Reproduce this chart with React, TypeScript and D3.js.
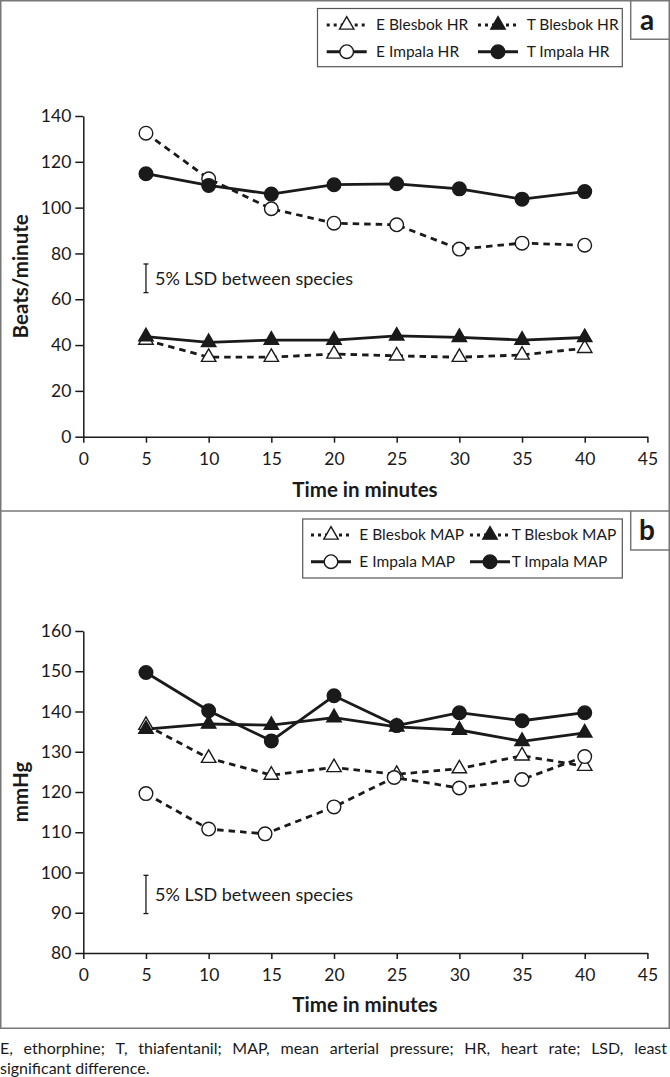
import React, { useEffect, useRef } from "react";
import * as d3 from "d3";

// ---------- data ----------
const times = [5, 10, 15, 20, 25, 30, 35, 40];

const eBlesbokHR = [42.2, 34.7, 34.7, 36.1, 35.3, 34.7, 35.7, 38.6];
const tBlesbokHR = [43.7, 41.2, 42.2, 42.2, 44.0, 43.4, 42.2, 43.3];
const eImpalaHR = [132.5, 112.6, 99.5, 93.2, 92.5, 81.9, 84.5, 83.6];
const tImpalaHR = [114.8, 109.7, 105.9, 110.0, 110.4, 108.2, 103.7, 107.0];

const eImpalaMAPTimes = [5, 10, 14.5, 20, 24.8, 30, 35, 40];
const eBlesbokMAP = [136.6, 128.4, 124.2, 126.1, 124.4, 125.8, 129.0, 126.4];
const tBlesbokMAP = [135.6, 136.9, 136.6, 138.5, 136.2, 135.4, 132.6, 134.7];
const eImpalaMAP = [119.6, 110.8, 109.6, 116.3, 123.6, 121.0, 123.1, 128.8];
const tImpalaMAP = [149.7, 140.2, 132.7, 143.9, 136.5, 139.7, 137.7, 139.7];

const xTicks = [0, 5, 10, 15, 20, 25, 30, 35, 40, 45];
const hrTicks = [0, 20, 40, 60, 80, 100, 120, 140];
const mapTicks = [80, 90, 100, 110, 120, 130, 140, 150, 160];

const hrLegend = ["E Blesbok HR", "T Blesbok HR", "E Impala HR", "T Impala HR"];
const mapLegend = ["E Blesbok MAP", "T Blesbok MAP", "E Impala MAP", "T Impala MAP"];

const lsdHR = [62.9, 75.4];
const lsdMAP = [89.8, 99.3];
const lsdLabel = "5% LSD between species";

const captionLine1 =
  "E, ethorphine; T, thiafentanil; MAP, mean arterial pressure; HR, heart rate; LSD, least";
const captionLine2 = "significant difference.";

const FONT = "Lato, 'Open Sans', sans-serif";
const INK = "#1a1a1a";

type Marker = "triOpen" | "triFilled" | "circOpen" | "circFilled";

export default function App() {
  const ref = useRef<SVGSVGElement>(null);

  useEffect(() => {
    const svg = d3.select(ref.current!);
    svg.selectAll("*").remove();

    const x = d3.scaleLinear().domain([0, 45]).range([83.3, 647.4]);

    // frame
    svg
      .append("rect")
      .attr("x", 0.75)
      .attr("y", 0.75)
      .attr("width", 668.5)
      .attr("height", 1027.5)
      .attr("fill", "none")
      .attr("stroke", "#777")
      .attr("stroke-width", 1.5);
    svg
      .append("line")
      .attr("x1", 0)
      .attr("x2", 670)
      .attr("y1", 511)
      .attr("y2", 511)
      .attr("stroke", "#777")
      .attr("stroke-width", 1.5);

    const drawMarker = (g: any, type: Marker, cx: number, cy: number) => {
      if (type === "circOpen" || type === "circFilled") {
        g.append("circle")
          .attr("cx", cx)
          .attr("cy", cy)
          .attr("r", 6.8)
          .attr("fill", type === "circOpen" ? "#fff" : INK)
          .attr("stroke", INK)
          .attr("stroke-width", 1.4);
      } else {
        const sym = d3.symbol().type(d3.symbolTriangle).size(90);
        g.append("path")
          .attr("d", sym() as string)
          .attr("transform", `translate(${cx},${cy})`)
          .attr("fill", type === "triOpen" ? "#fff" : INK)
          .attr("stroke", INK)
          .attr("stroke-width", 1.4);
      }
    };

    const panel = (opts: {
      yDomain: [number, number];
      yRange: [number, number];
      ticks: number[];
      yTitle: string;
      titleY: number;
      series: { xs: number[]; ys: number[]; dashed: boolean; marker: Marker }[];
      legend: string[];
      legendBox: { x0: number; x1: number; y0: number; y1: number; col1: number; col2: number; txt1: number; txt2: number; row1: number; row2: number };
      letter: string;
      letterBox: { top: number; bottom: number };
      lsd: number[];
    }) => {
      const y = d3.scaleLinear().domain(opts.yDomain).range(opts.yRange);
      const g = svg.append("g");

      // axes
      const yAxis = d3
        .axisLeft(y)
        .tickValues(opts.ticks)
        .tickSize(8)
        .tickSizeOuter(0)
        .tickPadding(4)
        .tickFormat(d3.format("d") as any);
      const ya = g.append("g").attr("transform", `translate(${x(0)},0)`).call(yAxis);
      const xAxis = d3
        .axisBottom(x)
        .tickValues(xTicks)
        .tickSize(6)
        .tickSizeOuter(0)
        .tickPadding(10)
        .tickFormat(d3.format("d") as any);
      const xa = g
        .append("g")
        .attr("transform", `translate(0,${y(opts.yDomain[0])})`)
        .call(xAxis);
      [ya, xa].forEach((a) => {
        a.select(".domain").attr("stroke", INK).attr("stroke-width", 1.5);
        a.selectAll(".tick line").attr("stroke", INK).attr("stroke-width", 1.5);
        a.selectAll(".tick text")
          .attr("font-family", FONT)
          .attr("font-size", 17.5)
          .attr("fill", INK);
      });

      // titles
      g.append("text")
        .attr("x", 365)
        .attr("y", opts.titleY)
        .attr("text-anchor", "middle")
        .attr("font-family", FONT)
        .attr("font-weight", "bold")
        .attr("font-size", 20.5)
        .attr("fill", INK)
        .text("Time in minutes");
      const yc = (opts.yRange[0] + opts.yRange[1]) / 2;
      g.append("text")
        .attr("transform", `translate(28,${yc}) rotate(-90)`)
        .attr("text-anchor", "middle")
        .attr("font-family", FONT)
        .attr("font-weight", "bold")
        .attr("font-size", 20.5)
        .attr("fill", INK)
        .text(opts.yTitle);

      // LSD bar
      const lx = x(5);
      const ly0 = y(opts.lsd[0]);
      const ly1 = y(opts.lsd[1]);
      g.append("line").attr("x1", lx).attr("x2", lx).attr("y1", ly0).attr("y2", ly1).attr("stroke", INK).attr("stroke-width", 1.3);
      [ly0, ly1].forEach((yy) =>
        g.append("line").attr("x1", lx - 2.5).attr("x2", lx + 2.5).attr("y1", yy).attr("y2", yy).attr("stroke", INK).attr("stroke-width", 1.3)
      );
      g.append("text")
        .attr("x", lx + 9)
        .attr("y", (ly0 + ly1) / 2)
        .attr("dy", "0.35em")
        .attr("font-family", FONT)
        .attr("font-size", 18)
        .attr("fill", INK)
        .text(lsdLabel);

      // series
      opts.series.forEach((s) => {
        const pts = s.xs.map((t, i) => [x(t), y(s.ys[i])] as [number, number]);
        g.append("path")
          .attr("d", d3.line()(pts) as string)
          .attr("fill", "none")
          .attr("stroke", INK)
          .attr("stroke-width", s.dashed ? 2.8 : 2.8)
          .attr("stroke-dasharray", s.dashed ? "6.5,5" : null);
      });
      opts.series.forEach((s) => {
        s.xs.forEach((t, i) => drawMarker(g, s.marker, x(t), y(s.ys[i])));
      });

      // legend
      const L = opts.legendBox;
      g.append("rect")
        .attr("x", L.x0)
        .attr("y", L.y0)
        .attr("width", L.x1 - L.x0)
        .attr("height", L.y1 - L.y0)
        .attr("fill", "#fff")
        .attr("stroke", "#555")
        .attr("stroke-width", 1.2);
      const legendMarkers: Marker[] = ["triOpen", "triFilled", "circOpen", "circFilled"];
      const legendDashed = [true, true, false, false];
      opts.legend.forEach((label, i) => {
        const col = i % 2;
        const row = Math.floor(i / 2);
        const cx = col === 0 ? L.col1 : L.col2;
        const cy = row === 0 ? L.row1 : L.row2;
        g.append("line")
          .attr("x1", cx - 20)
          .attr("x2", cx + 20)
          .attr("y1", cy)
          .attr("y2", cy)
          .attr("stroke", INK)
          .attr("stroke-width", 3)
          .attr("stroke-dasharray", legendDashed[i] ? "3,4" : null);
        drawMarker(g, legendMarkers[i], cx, cy);
        g.append("text")
          .attr("x", col === 0 ? L.txt1 : L.txt2)
          .attr("y", cy)
          .attr("dy", "0.35em")
          .attr("font-family", FONT)
          .attr("font-size", 15.5)
          .attr("fill", INK)
          .text(label);
      });

      // panel letter
      g.append("path")
        .attr("d", `M630.7,${opts.letterBox.top} V${opts.letterBox.bottom} H670`)
        .attr("fill", "none")
        .attr("stroke", "#777")
        .attr("stroke-width", 1.5);
      g.append("text")
        .attr("x", 647)
        .attr("y", (opts.letterBox.top + opts.letterBox.bottom) / 2)
        .attr("dy", "0.35em")
        .attr("text-anchor", "middle")
        .attr("font-family", FONT)
        .attr("font-weight", "bold")
        .attr("font-size", 28)
        .attr("fill", INK)
        .text(opts.letter);
    };

    panel({
      yDomain: [0, 140],
      yRange: [436.7, 116],
      ticks: hrTicks,
      yTitle: "Beats/minute",
      titleY: 496.5,
      series: [
        { xs: times, ys: eBlesbokHR, dashed: true, marker: "triOpen" },
        { xs: times, ys: tBlesbokHR, dashed: false, marker: "triFilled" },
        { xs: times, ys: eImpalaHR, dashed: true, marker: "circOpen" },
        { xs: times, ys: tImpalaHR, dashed: false, marker: "circFilled" },
      ],
      legend: hrLegend,
      legendBox: { x0: 317.5, x1: 622.3, y0: 8.5, y1: 66.7, col1: 346.7, col2: 498, txt1: 376, txt2: 526.7, row1: 25, row2: 51.7 },
      letter: "a",
      letterBox: { top: 0.75, bottom: 39.3 },
      lsd: lsdHR,
    });

    panel({
      yDomain: [80, 160],
      yRange: [953, 631],
      ticks: mapTicks,
      yTitle: "mmHg",
      titleY: 1012,
      series: [
        { xs: times, ys: eBlesbokMAP, dashed: true, marker: "triOpen" },
        { xs: times, ys: tBlesbokMAP, dashed: false, marker: "triFilled" },
        { xs: eImpalaMAPTimes, ys: eImpalaMAP, dashed: true, marker: "circOpen" },
        { xs: times, ys: tImpalaMAP, dashed: false, marker: "circFilled" },
      ],
      legend: mapLegend,
      legendBox: { x0: 302.7, x1: 622.3, y0: 519, y1: 578, col1: 331, col2: 490, txt1: 359.3, txt2: 511.7, row1: 535, row2: 561.7 },
      letter: "b",
      letterBox: { top: 511, bottom: 550 },
      lsd: lsdMAP,
    });

    // caption (line 1 justified)
    const cap = svg.append("g").attr("font-family", FONT).attr("font-size", 16).attr("fill", INK);
    const words = captionLine1.split(" ");
    const nodes = words.map((w) => cap.append("text").attr("y", 1054).text(w));
    const widths = nodes.map((n) => (n.node() as SVGTextElement).getComputedTextLength());
    const total = d3.sum(widths);
    const gap = Math.max(4, (667 - total) / (words.length - 1));
    let cx = 0;
    nodes.forEach((n, i) => {
      n.attr("x", cx);
      cx += widths[i] + gap;
    });
    cap.append("text").attr("x", 0).attr("y", 1074).text(captionLine2);
  }, []);

  return (
    <svg
      ref={ref}
      width={670}
      height={1077}
      style={{ position: "absolute", left: 0, top: 0, background: "#fff" }}
    />
  );
}
